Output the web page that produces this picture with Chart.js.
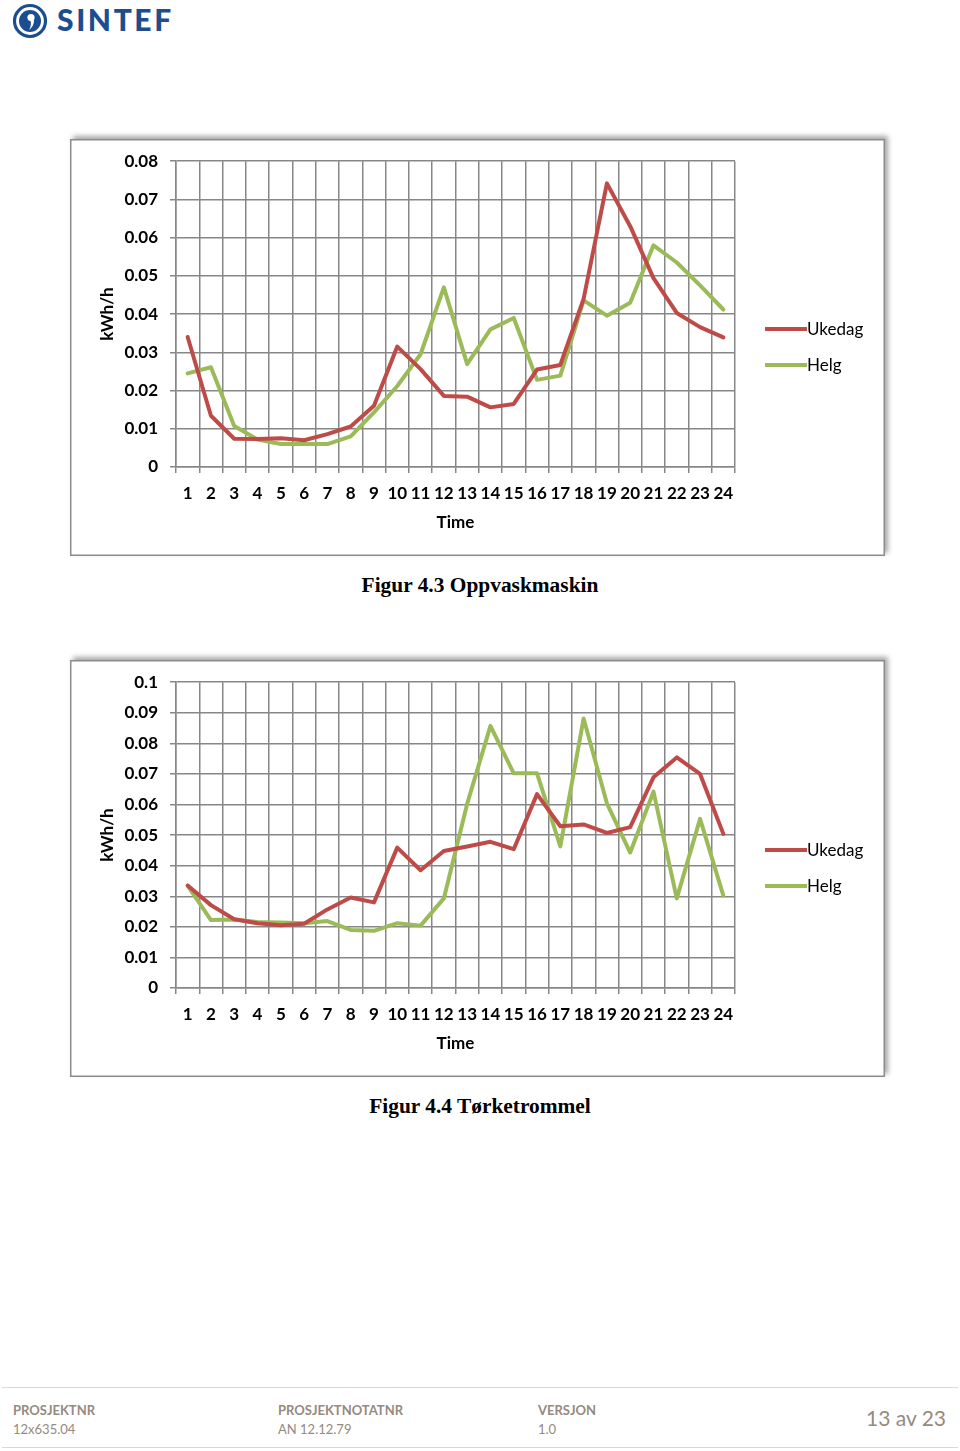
<!DOCTYPE html>
<html>
<head>
<meta charset="utf-8">
<script src="https://cdn.jsdelivr.net/npm/chart.js@4.4.0/dist/chart.umd.min.js"></script>
<style>
  body { margin: 0; background: #fff; }
  #page { position: relative; width: 960px; height: 1451px; overflow: hidden; font-family: Lato, sans-serif; }
  .box { position: absolute; left: 70px; width: 815px; height: 417px;
         box-shadow: inset 0 0 0 1.5px #8c8c8c, 3px -3px 5px rgba(0,0,0,0.35); background: #fff; }
  .box canvas { position: absolute; left: 0; top: 0; }
  .legend { position: absolute; left: 695px; font-size: 17px; color: #000; }
  .legend .row { position: absolute; left: 0; height: 20px; white-space: nowrap; }
  .legend .swatch { position: absolute; left: 0; top: 8px; width: 42px; height: 4px; }
  .legend .txt { position: absolute; left: 42px; top: 0; line-height: 20px; }
  .caption { position: absolute; left: 0; width: 960px; text-align: center;
             font-family: "Liberation Serif", serif; font-weight: bold; font-size: 21.4px; }
  .logo { position: absolute; left: 12px; top: 3px; }
  .logotxt { position: absolute; left: 57px; top: 1px; font-weight: 900; font-size: 30px;
             color: #1c4e8f; letter-spacing: 2.6px; }
  .fline { position: absolute; left: 2px; width: 956px; height: 1px; background: #d8d8d8; }
  .flab { position: absolute; font-size: 13px; font-weight: bold; color: #958a80; }
  .fval { position: absolute; font-size: 13px; color: #958a80; }
  .fpage { position: absolute; right: 14px; top: 1405px; font-size: 21px; color: #958a80; }
</style>
</head>
<body>
<div id="page">
  <svg class="logo" width="36" height="36" viewBox="0 0 36 36">
    <circle cx="18" cy="18" r="15.5" fill="none" stroke="#1c4e8f" stroke-width="3.2"/>
    <circle cx="18" cy="18" r="11" fill="#1c4e8f"/>
    <circle cx="19" cy="14.5" r="3.6" fill="#fff"/>
    <path d="M21.8 15.5 C22.5 20 21 24 17 27 C19 23.5 19.3 20.5 18.5 17.8 Z" fill="#fff"/>
  </svg>
  <div class="logotxt">SINTEF</div>

  <div class="box" style="top:139px">
    <canvas id="dishChart" width="815" height="417"></canvas>
    <div class="legend">
      <div class="row" style="top:180px"><div class="swatch" style="background:#be4b48"></div><div class="txt">Ukedag</div></div>
      <div class="row" style="top:216px"><div class="swatch" style="background:#9bbb59"></div><div class="txt">Helg</div></div>
    </div>
  </div>
  <div class="caption" style="top:573px">Figur 4.3 Oppvaskmaskin</div>

  <div class="box" style="top:660px">
    <canvas id="dryerChart" width="815" height="417"></canvas>
    <div class="legend">
      <div class="row" style="top:180px"><div class="swatch" style="background:#be4b48"></div><div class="txt">Ukedag</div></div>
      <div class="row" style="top:216px"><div class="swatch" style="background:#9bbb59"></div><div class="txt">Helg</div></div>
    </div>
  </div>
  <div class="caption" style="top:1094px">Figur 4.4 Tørketrommel</div>

  <div class="fline" style="top:1387px"></div>
  <div class="flab" style="left:13px;top:1402px">PROSJEKTNR</div>
  <div class="fval" style="left:13px;top:1421px">12x635.04</div>
  <div class="flab" style="left:278px;top:1402px">PROSJEKTNOTATNR</div>
  <div class="fval" style="left:278px;top:1421px">AN 12.12.79</div>
  <div class="flab" style="left:538px;top:1402px">VERSJON</div>
  <div class="fval" style="left:538px;top:1421px">1.0</div>
  <div class="fpage">13 av 23</div>
  <div class="fline" style="top:1447px"></div>
</div>

<script>
// --- DATA ---
const hours = ["1","2","3","4","5","6","7","8","9","10","11","12","13","14","15","16","17","18","19","20","21","22","23","24"];

// Figur 4.3 Oppvaskmaskin
const dishUkedag = [0.034, 0.0134, 0.0074, 0.0073, 0.0075, 0.007, 0.0086, 0.0106, 0.016, 0.0315, 0.0256, 0.0186,
                    0.0184, 0.0156, 0.0165, 0.0255, 0.0267, 0.044, 0.0742, 0.063, 0.0494, 0.0403, 0.0366, 0.0339];
const dishHelg = [0.0245, 0.0261, 0.0107, 0.0072, 0.006, 0.006, 0.006, 0.008, 0.0143, 0.0212, 0.0295, 0.047,
                  0.0269, 0.036, 0.039, 0.0228, 0.0239, 0.0436, 0.0396, 0.043, 0.058, 0.0535, 0.0475, 0.0412];
const dishTicks = ["0", "0.01", "0.02", "0.03", "0.04", "0.05", "0.06", "0.07", "0.08"];

// Figur 4.4 Tørketrommel
const dryerUkedag = [0.0335, 0.0271, 0.0225, 0.0212, 0.0205, 0.021, 0.0257, 0.0296, 0.028, 0.0459, 0.0385, 0.0448,
                     0.0463, 0.0478, 0.0454, 0.0634, 0.0529, 0.0535, 0.0507, 0.0526, 0.0689, 0.0754, 0.07, 0.0504];
const dryerHelg = [0.0335, 0.0222, 0.0224, 0.0216, 0.0214, 0.0212, 0.0219, 0.019, 0.0187, 0.0212, 0.0204, 0.0293,
                   0.0602, 0.0857, 0.0702, 0.0702, 0.0463, 0.0881, 0.0604, 0.0443, 0.0642, 0.0293, 0.0553, 0.0302];
const dryerTicks = ["0", "0.01", "0.02", "0.03", "0.04", "0.05", "0.06", "0.07", "0.08", "0.09", "0.1"];

const RED = "#be4b48";
const GREEN = "#9bbb59";
const GRID = "#878787";

Chart.defaults.font.family = "Lato, sans-serif";
Chart.defaults.color = "#000";

function makeChart(id, ukedag, helg, yMax, yLabels) {
  const ctx = document.getElementById(id).getContext("2d");
  return new Chart(ctx, {
    type: "line",
    data: {
      labels: hours,
      datasets: [
        { label: "Ukedag", data: ukedag, borderColor: RED, borderWidth: 4, pointRadius: 0,
          tension: 0, borderJoinStyle: "round", borderCapStyle: "round" },
        { label: "Helg", data: helg, borderColor: GREEN, borderWidth: 4, pointRadius: 0,
          tension: 0, borderJoinStyle: "round", borderCapStyle: "round" }
      ]
    },
    options: {
      responsive: false,
      animation: false,
      layout: { padding: { left: 0, top: 18, right: 150, bottom: 0 } },
      plugins: { legend: { display: false }, tooltip: { enabled: false } },
      scales: {
        x: {
          offset: true,
          grid: { offset: true, color: GRID, lineWidth: 1.5, tickLength: 6 },
          border: { color: GRID, width: 1.5 },
          ticks: { font: { size: 17, weight: "bold" }, padding: 10, maxRotation: 0, autoSkip: false },
          title: { display: true, text: "Time", font: { size: 17, weight: "bold" }, padding: { top: 4, bottom: 23 } },
          afterFit: s => { s.height = 89; }
        },
        y: {
          min: 0, max: yMax,
          ticks: { stepSize: 0.01, font: { size: 17, weight: "bold" }, padding: 12,
                   callback: (v, i) => yLabels[i] },
          grid: { color: GRID, lineWidth: 1.5, tickLength: 6 },
          border: { color: GRID, width: 1.5 },
          title: { display: true, text: "kWh/h", font: { size: 17, weight: "bold" }, padding: { top: 27, bottom: 0 } },
          afterFit: s => { s.width = 106; }
        }
      }
    }
  });
}

makeChart("dishChart", dishUkedag, dishHelg, 0.08, dishTicks);
makeChart("dryerChart", dryerUkedag, dryerHelg, 0.1, dryerTicks);
</script>
</body>
</html>
